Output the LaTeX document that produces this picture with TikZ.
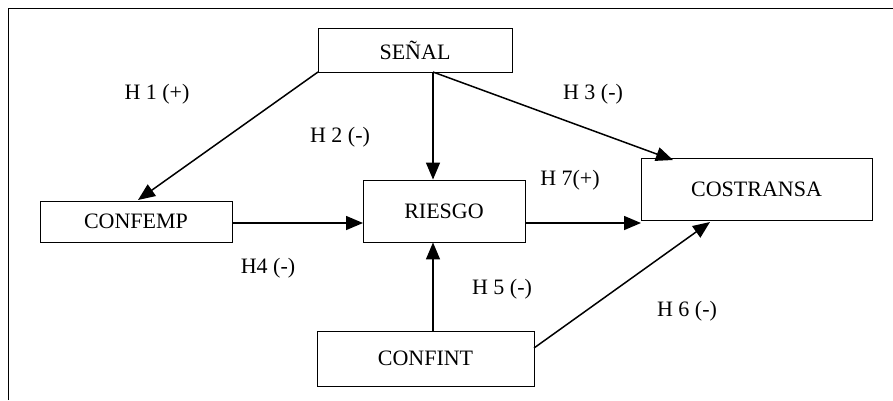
\documentclass[tikz,border=0pt]{standalone}
\usepackage{fontspec}
\setmainfont{Liberation Serif}
\usetikzlibrary{arrows.meta}
\begin{document}
\begin{tikzpicture}[x=1pt,y=-1pt,
  box/.style={draw,line width=0.9pt,inner sep=0pt},
  link/.style={line width=1.5pt,-{Triangle[length=17pt,width=14pt]}},
  lab/.style={font=\fontsize{22}{24}\selectfont,inner sep=0pt},
  every node/.style={font=\fontsize{22}{24}\selectfont}]
\useasboundingbox (0,0) rectangle (893,400);
\draw[line width=1.3pt] (8.5,400) -- (8.5,8.5) -- (893,8.5);
% boxes
\node[box,minimum width=194pt,minimum height=44pt] (senal) at (415,50) {SEÑAL};
\node[box,minimum width=192pt,minimum height=41pt] (confemp) at (136,221.5) {CONFEMP};
\node[box,minimum width=162pt,minimum height=62pt] (riesgo) at (444,211) {RIESGO};
\node[box,minimum width=231pt,minimum height=62pt] (costransa) at (756.5,189) {COSTRANSA};
\node[box,minimum width=217pt,minimum height=55pt] (confint) at (425.5,358.5) {CONFINT};
% anchor points
\coordinate (s1) at (318,72);
\coordinate (s2) at (433,72);
\coordinate (t1) at (138,200);
\coordinate (t3) at (673,160);
\coordinate (r1) at (525,223);
\coordinate (c1) at (641,223);
\coordinate (e1) at (232,223);
\coordinate (e2) at (363,223);
\coordinate (i1) at (433,331);
\coordinate (i2) at (534,348);
\coordinate (t6) at (710,222);
% connectors
\draw[link] (s1) -- (t1);
\draw[link] (s2) -- (s2 |- riesgo.north);
\draw[link] (s2) -- (t3);
\draw[link] (e1) -- (e2);
\draw[link] (r1) -- (c1);
\draw[link] (i1) -- (i1 |- riesgo.south);
\draw[link] (i2) -- (t6);
% labels
\node[lab] (h1) at (157,94) {H 1 (+)};
\node[lab] (h2) at (340,137) {H 2 (-)};
\node[lab] (h3) at (593,94) {H 3 (-)};
\node[lab] (h7) at (570,180) {H 7(+)};
\node[lab] (h4) at (268,268) {H4 (-)};
\node[lab] (h5) at (502,289) {H 5 (-)};
\node[lab] (h6) at (687,311) {H 6 (-)};
\end{tikzpicture}
\end{document}
